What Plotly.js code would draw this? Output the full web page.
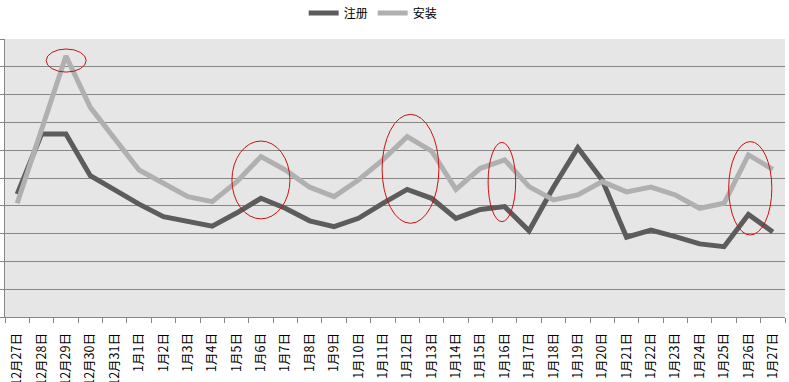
<!DOCTYPE html>
<html>
<head>
<meta charset="utf-8">
<script src="https://cdn.plot.ly/plotly-3.0.1.min.js"></script>
<style>html,body{margin:0;padding:0;background:#fff;}#chart{width:789px;height:382px;}</style>
</head>
<body>
<div id="chart"></div>
<script>
const categories = ["12月27日","12月28日","12月29日","12月30日","12月31日","1月1日","1月2日","1月3日","1月4日","1月5日","1月6日","1月7日","1月8日","1月9日","1月10日","1月11日","1月12日","1月13日","1月14日","1月15日","1月16日","1月17日","1月18日","1月19日","1月20日","1月21日","1月22日","1月23日","1月24日","1月25日","1月26日","1月27日"];
const register = [4.42,6.58,6.58,5.08,4.57,4.06,3.61,3.45,3.27,3.74,4.27,3.91,3.46,3.25,3.55,4.09,4.59,4.27,3.55,3.87,3.97,3.10,4.67,6.09,4.93,2.87,3.13,2.89,2.63,2.53,3.69,3.06];
const install = [4.09,6.67,9.39,7.54,6.41,5.29,4.81,4.33,4.15,4.86,5.77,5.29,4.67,4.33,4.93,5.65,6.49,5.97,4.59,5.35,5.65,4.69,4.21,4.39,4.87,4.50,4.67,4.39,3.91,4.09,5.83,5.31];
const seriesNames = ["注册","安装"];
// highlighted regions: [x0, x1, y0, y1] in category index / value units
const highlights = [[1.19,2.83,8.81,9.64],[8.81,11.19,3.53,6.33],[14.97,17.30,3.37,7.29],[19.32,20.45,3.43,6.28],[29.19,30.96,2.95,6.31]];

const font = "'Noto Sans CJK SC', 'Noto Sans', sans-serif";
const traces = [
  {x: categories, y: register, name: seriesNames[0], type: "scatter", mode: "lines",
   line: {color: "#5c5c5c", width: 5}},
  {x: categories, y: install, name: seriesNames[1], type: "scatter", mode: "lines",
   line: {color: "#b0b0b0", width: 5}}
];
const shapes = highlights.map(h => ({
  type: "circle", xref: "x", yref: "y",
  x0: h[0], x1: h[1], y0: h[2], y1: h[3],
  line: {color: "#cc1111", width: 1}, fillcolor: "rgba(0,0,0,0)"
}));
const layout = {
  width: 789, height: 382,
  margin: {l: 5, r: 4, t: 39, b: 65, pad: 0, autoexpand: false},
  paper_bgcolor: "#ffffff",
  plot_bgcolor: "#e6e6e6",
  font: {family: font, size: 12, color: "#000"},
  showlegend: true,
  legend: {orientation: "h", x: 0.472, xanchor: "center", y: 0.966, yanchor: "middle", yref: "container",
           font: {size: 12, family: font}, itemwidth: 30, traceorder: "normal", bgcolor: "rgba(0,0,0,0)"},
  xaxis: {type: "category", range: [-0.5, 31.5], tickangle: -90,
          ticks: "outside", tickson: "boundaries", ticklen: 5, tickcolor: "#868686",
          showline: true, linecolor: "#868686", linewidth: 1, showgrid: false,
          tickfont: {family: font, size: 12.5, color: "#000"}, ticklabelstandoff: 10,
          automargin: false, fixedrange: true},
  yaxis: {range: [0, 10], dtick: 1, tick0: 0, showticklabels: false,
          ticks: "outside", ticklen: 5, tickcolor: "#868686",
          showline: true, linecolor: "#868686", linewidth: 1,
          showgrid: true, gridcolor: "#868686", gridwidth: 1, zeroline: false,
          automargin: false, fixedrange: true},
  shapes: shapes
};
Plotly.newPlot("chart", traces, layout, {staticPlot: true, displayModeBar: false});
</script>
</body>
</html>
